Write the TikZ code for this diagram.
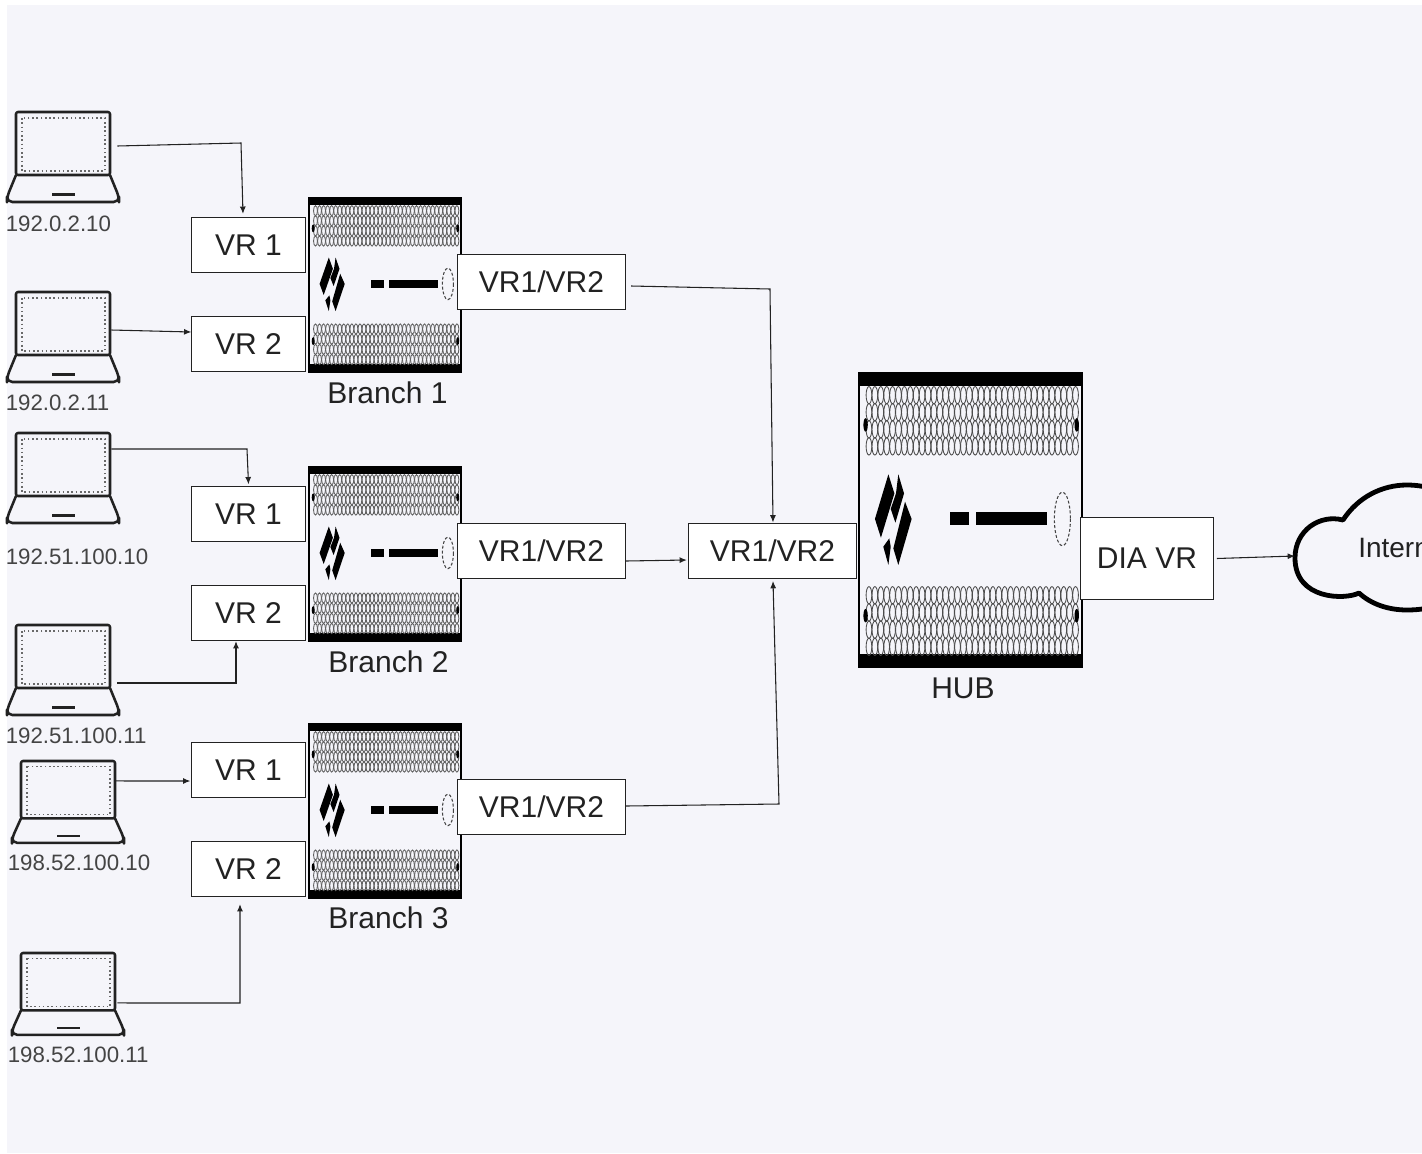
\documentclass[tikz,border=0pt]{standalone}
\usepackage{fontspec}
\setmainfont{Liberation Sans}
\usetikzlibrary{arrows.meta,calc}
\definecolor{bgc}{HTML}{F5F5FA}
\definecolor{ink}{HTML}{222222}
\definecolor{lab}{HTML}{444444}
\tikzset{
  boxn/.style={draw=ink,line width=0.7pt,fill=white,inner sep=0pt,text=ink,font=\fontsize{22.5}{27}\selectfont},
  vrbox/.style={boxn,minimum width=85pt,minimum height=41.5pt},
  widebox/.style={boxn,minimum width=126.25pt,minimum height=41.25pt},
  tag/.style={inner sep=0pt,anchor=west,text=lab,font=\fontsize{16.7}{20}\selectfont},
  devtag/.style={inner sep=0pt,anchor=center,text=ink,font=\fontsize{22.5}{27}\selectfont},
  conn/.style={draw=ink,line width=0.8pt,-{Latex[length=5.5pt,width=4.5pt]}},
  holder/.style={inner sep=0pt,draw=none},
}
% a laptop; #1 name, #2 #3 top left of the screen, #4 vertical scale
\newcommand{\laptopicon}[4]{%
  \node[holder,minimum width=84pt,minimum height={#4*67.5pt}] (#1) at (#2+47,#3+#4*45) {};
  \begin{scope}[shift={(#2,#3)},yscale=#4]
    \draw[ink,line width=1.9pt,line join=round,rounded corners=1.5pt] (0,0) rectangle (94,63);
    \draw[lab!80,line width=1.1pt,dash pattern=on 1.2pt off 2pt] (6,6) rectangle (89,59);
    \draw[ink,line width=1.9pt,line join=round,rounded corners=4pt] (0,63) -- (-9,85) -- (-9,90) -- (103,90) -- (103,85) -- (94,63);
    \draw[ink,line width=1.6pt] (36,82.5) -- (59,82.5);
  \end{scope}}
% a firewall; #1 name, #2 #3 top left, #4 #5 scale, #6 row colour
\newcommand{\firewall}[6]{%
  \node[holder,minimum width={#4*115.5pt},minimum height={#5*131pt}] (#1) at (#2+#4*77,#3+#5*87.5) {};
  \begin{scope}[shift={(#2,#3)},xscale=#4,yscale=#5]
    \draw[black,line width=1.5pt,fill=bgc] (0.7,0.5) rectangle (153.3,174.5);
    \fill[black] (0,0) rectangle (154,8);
    \fill[black] (0,167) rectangle (154,175);
    \foreach \r in {13.7,23.8,33.9,44,132,142.2,152.4,162.5}{
      \foreach \c in {0,...,35}{
        \draw[#6,line width=0.65pt] ({7.5+\c*4.04},\r) ellipse [x radius=1.95,y radius=5.1];
      }}
    \foreach \a/\b in {5.2/31.3,149.7/31.3,5.2/144.1,149.7/144.1}{
      \fill[black] (\a,\b) ellipse [x radius=1.5,y radius=4];}
    \fill[black] (20.8,60.5) -- (24.9,71.8) -- (15.7,98) -- (11.6,86.9) -- cycle;
    \fill[black] (27.6,60.5) -- (31.5,71.8) -- (25.6,89.1) -- (22.4,81) -- (26,71.8) -- cycle;
    \fill[black] (32.2,76.7) -- (36.7,86.9) -- (27.6,114.1) -- (24.2,104.3) -- cycle;
    \fill[black] (21.4,98.4) -- (22.4,103.3) -- (20.8,114.1) -- (17.3,103.3) -- cycle;
    \fill[black] (63,82.6) rectangle (76,90.5);
    \fill[black] (80.8,82.6) rectangle (129.6,90.5);
    \draw[lab,line width=0.8pt,dash pattern=on 2.2pt off 1.5pt] (139.9,86.9) ellipse [x radius=5.5,y radius=15.8];
  \end{scope}}
\begin{document}
\begin{tikzpicture}[x=0.75pt,y=-0.75pt]
\useasboundingbox (0,0) rectangle (1422,1154);
\clip (0,0) rectangle (1422,1154);
\fill[white] (0,0) rectangle (1422,1154);
\fill[bgc] (7,5) rectangle (1422,1153);

\firewall{fwa}{308}{197}{1}{1}{black!62}
\firewall{fwb}{308}{466}{1}{1}{black!62}
\firewall{fwc}{308}{723}{1}{1}{black!62}
\firewall{fwhub}{858}{372}{1.461}{1.691}{black!70}

\laptopicon{lapa}{16}{112}{1}
\laptopicon{lapb}{16}{292}{1}
\laptopicon{lapc}{16}{433}{1}
\laptopicon{lapd}{16}{625}{1}
\laptopicon{lape}{21}{761}{0.91}
\laptopicon{lapf}{21}{953}{0.91}

\node[tag] (ta) at (5.5,223.5) {192.0.2.10};
\node[tag] (tb) at (5.5,402.5) {192.0.2.11};
\node[tag] (tc) at (5.5,556.5) {192.51.100.10};
\node[tag] (td) at (5.5,735.5) {192.51.100.11};
\node[tag] (te) at (7.5,862.5) {198.52.100.10};
\node[tag] (tf) at (7.5,1054.5) {198.52.100.11};

\node[vrbox] (vaa) at (248.5,245) {VR 1};
\node[vrbox] (vab) at (248.5,344) {VR 2};
\node[vrbox] (vba) at (248.5,514) {VR 1};
\node[vrbox] (vbb) at (248.5,613) {VR 2};
\node[vrbox] (vca) at (248.5,770) {VR 1};
\node[vrbox] (vcb) at (248.5,869) {VR 2};

\node[widebox] (wa) at (541.5,281.5) {VR1/VR2};
\node[widebox] (wb) at (541.5,550.5) {VR1/VR2};
\node[widebox] (wc) at (541.5,807) {VR1/VR2};
\node[widebox] (wh) at (772.5,551) {VR1/VR2};
\node[boxn,minimum width=99.5pt,minimum height=62pt] (dia) at (1147,558.5) {DIA VR};

\node[devtag] (la) at (387.5,392.5) {Branch 1};
\node[devtag] (lb) at (388.5,661.5) {Branch 2};
\node[devtag] (lc) at (388.5,917.5) {Branch 3};
\node[devtag] (lh) at (963,688.5) {HUB};

% cloud
\draw[black,line width=3.6pt,line join=round,fill=bgc]
  (1343,520) .. controls (1358,497) and (1382,485) .. (1407,485)
  .. controls (1425,485) and (1440,490) .. (1450,500) -- (1450,600)
  .. controls (1440,606) and (1425,610) .. (1407,610)
  .. controls (1388,610) and (1371,604) .. (1359,593)
  .. controls (1345,600) and (1295,600) .. (1295,558)
  .. controls (1295,530) and (1320,514) .. (1343,520) -- cycle;
\coordinate (cloudedge) at (1295,556);
\node[inner sep=0pt,anchor=west,text=ink,font=\fontsize{21}{25}\selectfont] (inet) at (1358,548) {Internet};

% bends
\coordinate (ka) at (241,143);
\coordinate (kb) at (247,449);
\coordinate (kc) at (236,683);
\coordinate (kd) at (240,1003);
\coordinate (ke) at (770,289);
\coordinate (kf) at (779,804);

\draw[conn] ($(lapa.east)+(-2,-11)$) -- (ka) -- ($(vaa.north)+(-5.5,-3)$);
\draw[conn] ($(lapb.east)+(-8,-7)$) -- ($(vab.west)+(0,-12)$);
\draw[conn] ($(lapc.east)+(-8,-29)$) -- (kb) -- ($(vba.north)+(0,-1.5)$);
\draw[conn] ($(lapd.east)+(-2,13)$) -- (kc) -- ($(vbb.south)+(-12.5,0)$);
\draw[conn] ($(lape.east)+(-9,-21)$) -- ($(vca.west)+(-1,11)$);
\draw[conn] ($(lapf.east)+(-7,9)$) -- (kd) -- ($(vcb.south)+(-8.5,7)$);
\draw[conn] ($(wa.east)+(5,4.5)$) -- (ke) -- ($(wh.north)+(0.5,-0.5)$);
\draw[conn] ($(wb.east)+(0,10.5)$) -- ($(wh.west)+(-1,9)$);
\draw[conn] ($(wc.east)+(0,-1)$) -- (kf) -- ($(wh.south)+(0.5,2)$);
\draw[conn] ($(dia.east)+(3,0)$) -- (cloudedge);
\end{tikzpicture}
\end{document}
